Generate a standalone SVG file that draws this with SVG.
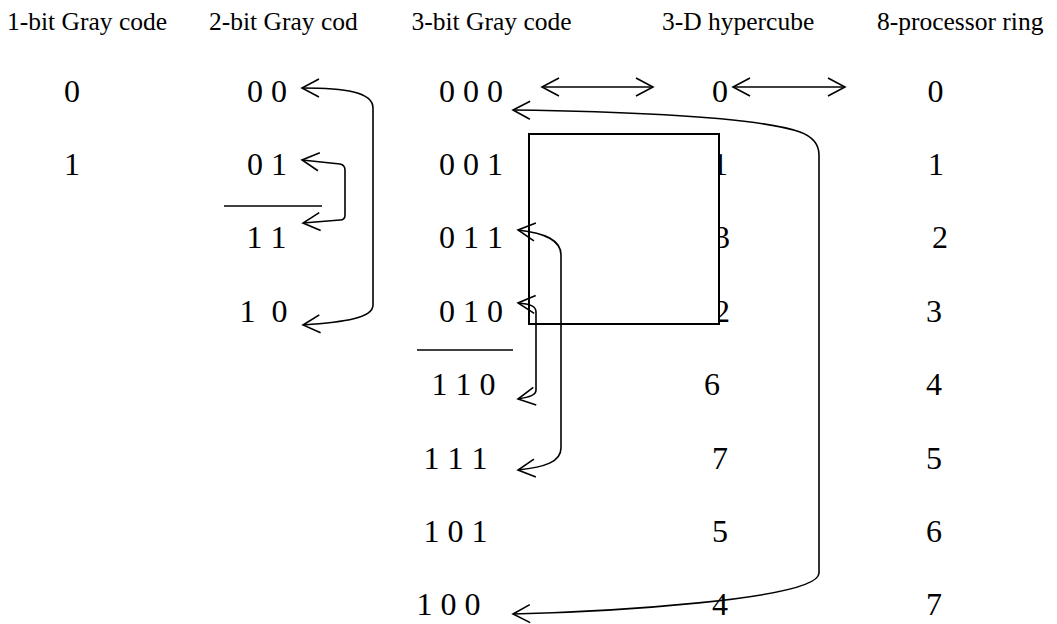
<svg xmlns="http://www.w3.org/2000/svg" width="1057" height="624" viewBox="0 0 1057 624" font-family="'Liberation Serif', 'Times New Roman', Tinos, serif">
  <style>
    text { font-family: 'Liberation Serif', 'Times New Roman', Tinos, serif; fill: #000; white-space: pre; }
    .hdr { font-size: 25.5px; }
    .num { font-size: 32px; }
    .arrow { fill: none; stroke: #000; stroke-width: 1.6; marker-start: url(#open); marker-end: url(#open); }
    .rule { stroke: #000; stroke-width: 1.6; }
  </style>
  <defs>
    <marker id="open" markerUnits="userSpaceOnUse" viewBox="-20 -12 24 24" refX="0" refY="0" markerWidth="24" markerHeight="24" orient="auto-start-reverse">
      <path d="M-17,-9 L0,0 L-17,9" fill="none" stroke="#000" stroke-width="1.6"/>
    </marker>
  </defs>

  <rect width="1057" height="624" fill="#fff"/>

  <!-- column headings -->
  <g id="headings" class="hdr" font-family="'Liberation Serif', 'Times New Roman', serif">
    <text x="7" y="30">1-bit Gray code</text>
    <text x="209" y="30">2-bit Gray cod</text>
    <text x="411.5" y="30">3-bit Gray code</text>
    <text x="662" y="30">3-D hypercube</text>
    <text x="877" y="30">8-processor ring</text>
  </g>

  <!-- 1-bit Gray code -->
  <g id="gray1" class="num" font-family="'Liberation Serif', 'Times New Roman', serif">
    <text x="64" y="102">0</text>
    <text x="64" y="175">1</text>
  </g>

  <!-- 2-bit Gray code (reflected) -->
  <g id="gray2" class="num" font-family="'Liberation Serif', 'Times New Roman', serif">
    <text x="247" y="102">0 0</text>
    <text x="247" y="175">0 1</text>
    <text x="246.5" y="248">1 1</text>
    <text x="239.5" y="322" xml:space="preserve">1  0</text>
  </g>
  <line class="rule" x1="224" y1="206" x2="322" y2="206"/>

  <!-- 3-bit Gray code (reflected) -->
  <g id="gray3" class="num" font-family="'Liberation Serif', 'Times New Roman', serif">
    <text x="439" y="102">0 0 0</text>
    <text x="439" y="175">0 0 1</text>
    <text x="439" y="248">0 1 1</text>
    <text x="439" y="322">0 1 0</text>
    <text x="431.5" y="395">1 1 0</text>
    <text x="423.5" y="469">1 1 1</text>
    <text x="423.5" y="542">1 0 1</text>
    <text x="416.5" y="615">1 0 0</text>
  </g>
  <line class="rule" x1="417" y1="350" x2="513" y2="350"/>

  <!-- 3-D hypercube node labels -->
  <g id="hypercube" class="num" font-family="'Liberation Serif', 'Times New Roman', serif">
    <text x="712" y="102">0</text>
    <text x="712" y="175">1</text>
    <text x="714" y="248">3</text>
    <text x="714" y="322">2</text>
    <text x="704" y="395">6</text>
    <text x="712" y="469">7</text>
    <text x="712" y="542">5</text>
    <text x="712" y="615">4</text>
  </g>

  <!-- 8-processor ring positions -->
  <g id="ring" class="num" font-family="'Liberation Serif', 'Times New Roman', serif">
    <text x="927.5" y="102">0</text>
    <text x="928" y="175">1</text>
    <text x="932" y="248">2</text>
    <text x="926" y="322">3</text>
    <text x="926" y="395">4</text>
    <text x="926" y="469">5</text>
    <text x="926" y="542">6</text>
    <text x="926" y="615">7</text>
  </g>

  <!-- square box, opaque so it masks the digits it overlaps -->
  <g id="box">
    <rect x="529" y="134" width="190" height="190" fill="#fff" stroke="#000" stroke-width="2"/>
  </g>

  <!-- connectors -->
  <g id="connectors">
    <path class="arrow" d="M542,87 L653,87"/>
    <path class="arrow" d="M733,87 L845,87"/>
    <path class="arrow" d="M302,88 C345,88 373,92 373,108 L373,305 C373,318 345,322 303,325"/>
    <path class="arrow" d="M302,160 L340,164 Q345,165 345,170 L345,215 Q345,220 340,220 L303,223"/>
    <path class="arrow" d="M513,110 C650,112 760,118 800,132 Q819,139 819,155 L819,573 C819,600 600,612 513,614"/>
    <path class="arrow" d="M518,230 C545,233 561,240 561,255 L561,448 C561,462 545,467 518,470"/>
    <path class="arrow" d="M518,303 C530,304 536,306 536,312 L536,390 C536,395 530,397 518,399"/>
  </g>
</svg>
